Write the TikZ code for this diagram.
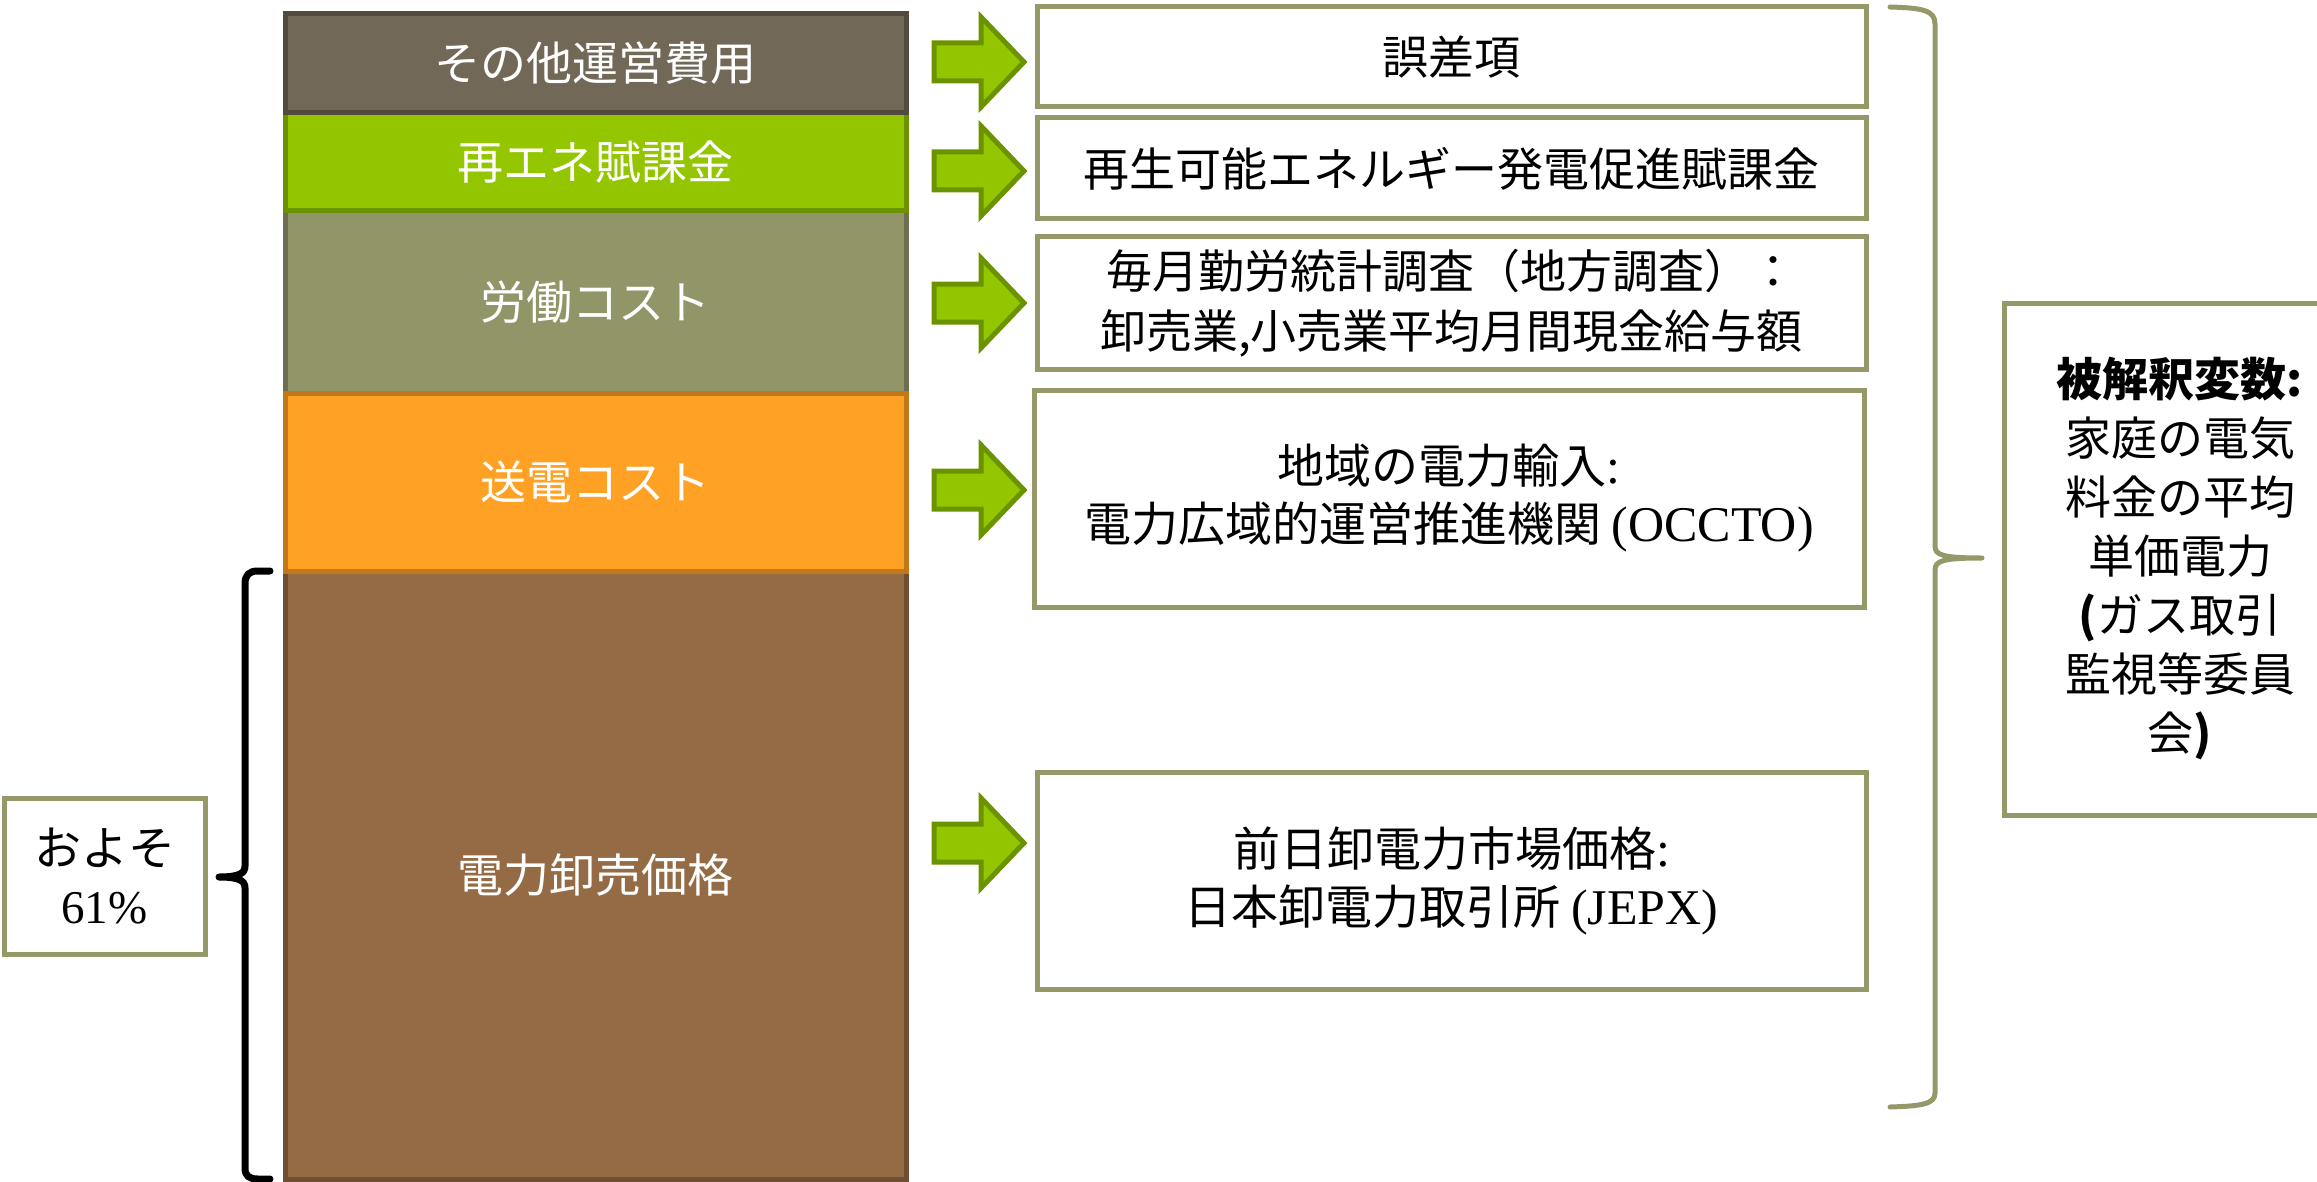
\documentclass[tikz,border=0pt]{standalone}
\usepackage{fontspec}
\setmainfont{Noto Sans CJK JP}
\newfontfamily\latinserif{Liberation Serif}
\definecolor{c1fill}{HTML}{716858}
\definecolor{c1line}{HTML}{514A3F}
\definecolor{c2fill}{HTML}{94C600}
\definecolor{c2line}{HTML}{6B9300}
\definecolor{c3fill}{HTML}{929567}
\definecolor{c3line}{HTML}{6D6E4F}
\definecolor{c4fill}{HTML}{FEA125}
\definecolor{c4line}{HTML}{C17819}
\definecolor{c5fill}{HTML}{946B44}
\definecolor{c5line}{HTML}{6F4F33}
\definecolor{olive}{HTML}{959869}
\tikzset{
  blk/.style={rectangle, line width=5pt, text=white, minimum width=621pt, inner sep=0pt,
    font=\fontsize{46}{56}\selectfont},
  tbox/.style={rectangle, draw=olive, line width=5pt, fill=white, inner sep=0pt, align=center,
    font=\fontsize{46}{60}\selectfont},
  sbox/.style={tbox, font=\fontsize{47}{58}\selectfont},
  garrow/.style={draw=c2line, fill=c2fill, line width=5pt, line join=miter},
  obrace/.style={draw=olive, line width=5pt, line cap=round, line join=round},
  kbrace/.style={draw=black, line width=7pt, line cap=round, line join=round},
}
\newcommand\greenarrow[1]{%
  \path[garrow, shift={(#1)}] (-45,-19) -- (2,-19) -- (2,-45) -- (45,0) -- (2,45) -- (2,19) -- (-45,19) -- cycle;}
\begin{document}
\begin{tikzpicture}[x=1pt,y=-1pt]
\useasboundingbox (0,0) rectangle (2317,1182);
% stacked cost blocks
\node[blk, fill=c5fill, draw=c5line, minimum height=608pt] (b5) at (595.5,875) {電力卸売価格};
\node[blk, fill=c3fill, draw=c3line, minimum height=182pt] (b3) at (595.5,302) {労働コスト};
\node[blk, fill=c4fill, draw=c4line, minimum height=178pt] (b4) at (595.5,482) {送電コスト};
\node[blk, fill=c2fill, draw=c2line, minimum height=98pt] (b2) at (595.5,162) {再エネ賦課金};
\node[blk, fill=c1fill, draw=c1line, minimum height=99pt] (b1) at (595.5,63.5) {その他運営費用};
% arrows
\coordinate (a1) at (979,62);
\coordinate (a2) at (979,171);
\coordinate (a3) at (979,303);
\coordinate (a4) at (979,490);
\coordinate (a5) at (979,843);
\greenarrow{a1}
\greenarrow{a2}
\greenarrow{a3}
\greenarrow{a4}
\greenarrow{a5}
% data source boxes
\node[tbox, minimum width=829pt, minimum height=100pt] (t1) at (1451.5,57) {誤差項};
\node[tbox, minimum width=829pt, minimum height=101pt] (t2) at (1451.5,168.5) {再生可能エネルギー発電促進賦課金};
\node[tbox, minimum width=829pt, minimum height=132pt] (t3) at (1451.5,303) {毎月勤労統計調査（地方調査）：\\卸売業,小売業平均月間現金給与額};
\node[sbox, minimum width=830pt, minimum height=217pt] (t4) at (1449,498.5)
  {地域の電力輸入{\latinserif\fontsize{50}{58}\selectfont :}\\電力広域的運営推進機関 {\latinserif\fontsize{50}{58}\selectfont (OCCTO)}};
\node[sbox, minimum width=829pt, minimum height=217pt] (t5) at (1451.5,880.5)
  {前日卸電力市場価格{\latinserif\fontsize{50}{58}\selectfont :}\\日本卸電力取引所 {\latinserif\fontsize{50}{58}\selectfont (JEPX)}};
% left share box
\node[sbox, minimum width=201pt, minimum height=156pt] (share) at (104.5,876)
  {およそ\\{\latinserif 61\%}};
% dependent variable box
\node[tbox, minimum width=352pt, minimum height=512pt, font=\fontsize{46}{59}\selectfont] (dep) at (2180,559)
  {{\bfseries 被解釈変数:}\\家庭の電気\\料金の平均\\単価電力\\{\bfseries (}ガス取引\\監視等委員\\会{\bfseries )}};
% right brace
\coordinate (rtip) at (1982,558);
\path[obrace] (1890,7) .. controls (1922,8) and (1935,10) .. (1935,24)
  -- (1935,546) .. controls (1935,555) and (1942,558) .. (rtip)
  .. controls (1942,558) and (1935,561) .. (1935,570)
  -- (1935,1093) .. controls (1935,1104) and (1922,1106) .. (1890,1107);
% left brace
\coordinate (ltip) at (219,877);
\path[kbrace] (270,571) -- (258,571) .. controls (249,571) and (245,575) .. (245,584)
  -- (245,866) .. controls (245,873) and (240,877) .. (ltip)
  .. controls (240,877) and (245,881) .. (245,888)
  -- (245,1168) .. controls (245,1176) and (249,1179) .. (258,1179) -- (270,1179);
\end{tikzpicture}
\end{document}
